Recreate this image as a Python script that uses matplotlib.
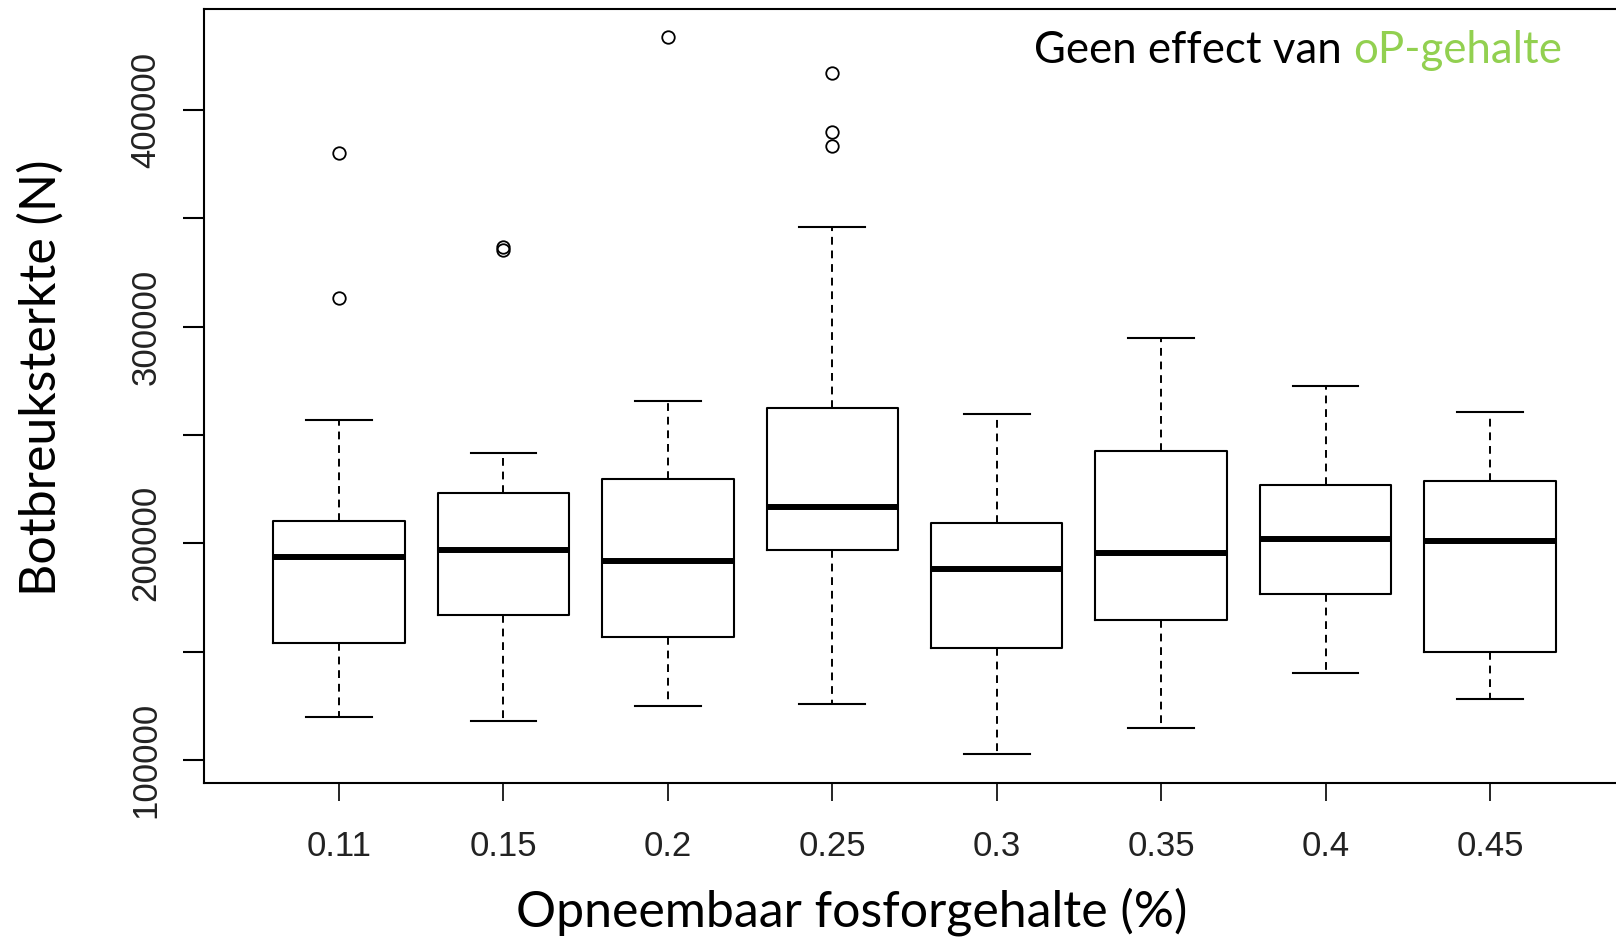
import matplotlib.pyplot as plt

# data (Botbreuksterkte, N)
groups = ['0.11', '0.15', '0.2', '0.25', '0.3', '0.35', '0.4', '0.45']
whislo = [120000, 118000, 124800, 125700, 102900, 114800, 140000, 128100]
q1 = [153800, 166700, 156700, 196700, 151900, 164800, 176700, 150000]
med = [193800, 196700, 191900, 216700, 188100, 195700, 201900, 201000]
q3 = [210500, 223300, 229500, 262400, 209500, 242400, 226700, 228600]
whishi = [257100, 241900, 265700, 346200, 259500, 294800, 272400, 260500]
fliers = [[380000, 313300], [336700, 335200], [433800],
          [417100, 390000, 383300], [], [], [], []]

stats = []
for i in range(len(groups)):
    stats.append(dict(label=groups[i], whislo=whislo[i], q1=q1[i], med=med[i],
                      q3=q3[i], whishi=whishi[i], fliers=fliers[i]))

W, H = 1616, 942
fig = plt.figure(figsize=(W / 100, H / 100), dpi=100)
ax = fig.add_axes([204 / W, (H - 783) / H, (1625 - 204) / W, (783 - 9) / H])

ax.bxp(stats, positions=range(1, len(groups) + 1), widths=0.8,
       boxprops=dict(color='black', linewidth=1.5),
       whiskerprops=dict(color='black', linewidth=1.4, linestyle=(0, (4, 3))),
       capprops=dict(color='black', linewidth=1.5),
       medianprops=dict(color='black', linewidth=4.3, solid_capstyle='butt'),
       flierprops=dict(marker='o', markerfacecolor='none', markeredgecolor='black',
                       markersize=9, markeredgewidth=1.3),
       capwidths=0.4)

ax.set_xlim(0.179, 8.821)
ax.set_ylim(89385, 446610)

yt = list(range(100000, 400001, 50000))
ax.set_yticks(yt)
ax.set_yticklabels([str(v) if v % 100000 == 0 else '' for v in yt],
                   rotation=90, va='center')
ax.set_xticks(range(1, len(groups) + 1))
ax.set_xticklabels(groups)

for s in ax.spines.values():
    s.set_linewidth(1.5)
ax.tick_params(axis='x', length=13, width=1.2, pad=21, labelsize=25)
ax.tick_params(axis='y', length=15, width=1.5, pad=15, labelsize=25)
for lab in ax.get_xticklabels() + ax.get_yticklabels():
    lab.set_family('Liberation Sans')
    lab.set_color('#222222')

fig.text(852 / W, 1 - 912 / H, 'Opneembaar fosforgehalte (%)', family='Lato',
         fontsize=36, ha='center', va='center')
fig.text(41 / W, 1 - 378 / H, 'Botbreuksterkte (N)', family='Lato',
         fontsize=36, ha='center', va='center', rotation=90)

t2 = fig.text(1562 / W, 1 - 63 / H, 'oP-gehalte', family='Lato', fontsize=31.5,
              color='#92D050', ha='right', va='baseline')
ax.annotate('Geen effect van ', xy=(0, 0), xycoords=t2, family='Lato',
            fontsize=31.5, color='black', ha='right', va='bottom')

fig.savefig('out.png', dpi=100)
